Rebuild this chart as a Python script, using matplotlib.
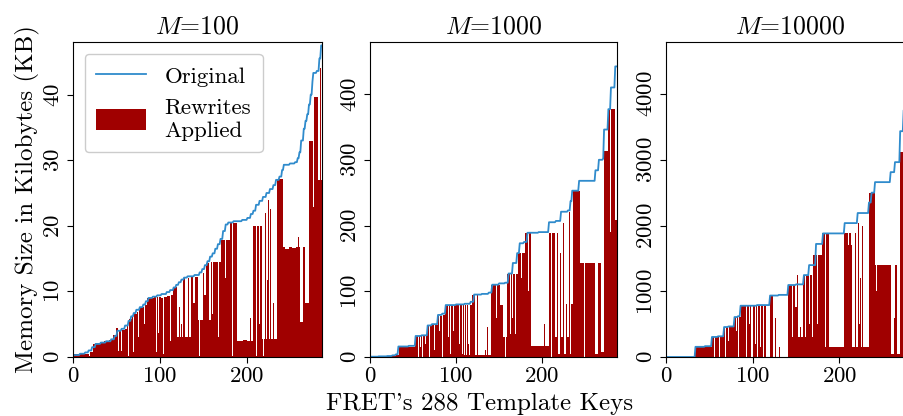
import numpy as np
import matplotlib
matplotlib.use("Agg")
import matplotlib.pyplot as plt

plt.rcParams['font.family'] = ['cmr10']
plt.rcParams['mathtext.fontset'] = 'cm'
plt.rcParams['axes.formatter.use_mathtext'] = True
plt.rcParams['font.size'] = 16

N_KEYS = 288

# (first key, value) -- value holds until the next first key
orig_m100 = [(0, 0.3), (8, 0.5), (14, 0.7), (18, 1.0), (22, 1.5), (26, 2.0), (32, 2.2), (38, 2.4),
             (44, 2.7), (48, 3.2), (51, 4.0), (56, 4.3), (60, 4.8), (64, 5.5), (67, 6.2), (70, 6.7),
             (73, 7.2), (77, 7.6), (81, 8.0), (84, 8.5), (87, 9.0), (92, 9.2), (97, 9.4), (102, 9.6),
             (108, 9.9), (112, 10.2), (116, 10.6), (119, 11.0), (122, 11.4), (125, 11.8), (128, 12.1),
             (132, 12.3), (140, 12.5), (146, 12.9), (149, 13.4), (152, 14.0), (155, 14.6), (158, 15.3),
             (161, 15.8), (164, 16.5), (167, 17.2), (170, 18.0), (173, 19.2), (176, 20.2), (179, 20.5),
             (185, 20.7), (195, 20.9), (201, 21.2), (205, 21.8), (208, 22.3), (211, 23.2), (215, 23.8),
             (219, 24.4), (223, 25.0), (227, 25.6), (231, 26.2), (234, 27.0), (238, 27.5), (241, 28.5),
             (243, 29.3), (250, 29.5), (256, 29.7), (259, 30.3), (261, 31.2), (263, 33.0), (266, 34.8),
             (268, 36.0), (270, 37.0), (272, 38.5), (274, 40.0), (276, 42.0), (277, 43.3), (281, 43.6),
             (284, 45.5), (286, 47.5)]

rewr_m100 = [(0, 0.45), (19, 0.1), (20, 0.8), (24, 2.0), (30, 2.2), (36, 2.4), (42, 2.6), (46, 3.3),
             (50, 4.4), (52, 0.9), (53, 3.9), (56, 0.9), (57, 4.1), (60, 4.3), (63, 4.8),
             (64, 0.1), (65, 5.8), (68, 6.2), (70, 0.8), (71, 6.5), (74, 6.9), (75, 3.0),
             (76, 7.2), (78, 7.4), (80, 7.6), (82, 5.0), (83, 7.9), (86, 9.0), (91, 0.2),
             (92, 9.0), (94, 9.1), (96, 0.8), (97, 9.2), (99, 3.6), (100, 9.1),
             (102, 9.0), (104, 0.4), (105, 9.2), (109, 9.3), (112, 2.5), (113, 9.4),
             (116, 10.7), (120, 3.0), (123, 7.6), (124, 3.0), (125, 5.0), (126, 3.0), (127, 12.1),
             (130, 3.0), (133, 12.0), (134, 3.0), (136, 12.2), (139, 8.2), (141, 12.2), (144, 5.6),
             (146, 0.1), (147, 5.6), (150, 12.8), (152, 9.4), (154, 14.3), (157, 5.6), (159, 14.5),
             (161, 6.5), (162, 14.5), (168, 3.0), (169, 14.5), (171, 17.8),
             (176, 12.0), (177, 17.8), (181, 20.4), (184, 0.1), (185, 20.5), (189, 2.4), (196, 2.6),
             (201, 2.5), (205, 6.0), (206, 2.5), (208, 20.0), (211, 0.1), (212, 20.0), (215, 5.0),
             (216, 20.0), (218, 2.7), (220, 0.1), (221, 2.7), (222, 22.0), (223, 2.7), (224, 11.7),
             (225, 23.9), (226, 2.7), (228, 22.5), (229, 2.7), (231, 8.2), (232, 2.7), (236, 27.2),
             (242, 16.7), (245, 16.5), (249, 16.8), (253, 16.6), (257, 16.8), (260, 18.3), (261, 16.7),
             (262, 5.3), (266, 16.8), (268, 8.2), (272, 33.0), (277, 22.8), (278, 39.6), (283, 27.0),
             (285, 44.0), (286, 27.0)]

orig_m1000 = [(0, 0.5), (10, 1.0), (20, 1.5), (26, 2.5), (30, 4.0), (33, 16), (45, 17), (53, 32),
              (60, 33), (67, 48), (72, 50), (79, 64), (84, 66), (88, 79), (100, 80), (110, 81),
              (117, 84), (121, 95), (130, 96), (138, 98), (142, 110), (150, 112), (157, 113),
              (161, 127), (166, 143), (171, 158), (174, 173), (179, 175), (183, 189), (196, 190),
              (208, 205), (216, 207), (222, 221), (230, 223), (233, 237), (235, 253), (243, 268),
              (262, 284), (266, 300), (271, 302), (272, 346), (277, 377), (280, 410), (285, 442)]

rewr_m1000 = [(0, 0.3), (15, 0.8), (25, 1.5), (31, 3.0), (34, 15.5), (53, 32), (56, 0.5), (57, 32),
              (59, 15), (60, 32), (61, 0.3), (62, 32), (64, 20), (65, 32), (67, 47), (69, 0.5),
              (70, 47), (72, 30), (73, 48), (75, 10), (76, 48), (79, 63), (81, 40), (82, 63),
              (84, 0.5), (85, 64), (88, 79), (91, 30), (92, 79), (94, 5), (95, 79), (97, 40), (98, 79),
              (100, 0.5), (101, 79), (104, 20), (105, 79), (107, 5), (108, 79), (110, 3), (111, 79),
              (112, 3), (113, 79), (114, 20), (115, 3), (117, 79), (119, 94), (123, 3), (125, 95),
              (126, 3), (129, 64), (130, 3), (134, 10), (135, 3), (137, 45), (138, 3), (141, 110),
              (147, 60), (148, 110), (152, 79), (155, 30), (157, 0.5), (158, 50), (159, 30),
              (160, 126), (163, 35), (164, 126), (166, 60), (167, 126), (169, 35), (170, 126),
              (172, 158), (176, 120), (177, 158), (181, 189), (184, 100), (185, 189), (188, 17),
              (203, 50), (204, 17), (208, 189), (211, 0.5), (212, 189), (215, 150), (216, 30),
              (218, 189), (219, 5), (221, 158), (222, 220), (223, 30), (225, 204), (226, 5), (228, 80),
              (229, 30), (232, 220), (233, 5), (234, 80), (236, 252), (244, 143), (249, 0.5),
              (250, 143), (262, 5), (266, 143), (269, 8), (272, 313), (277, 377), (279, 190),
              (280, 377), (285, 208)]

orig_m10000 = [(0, 0), (34, 155), (45, 165), (53, 305), (60, 315), (67, 456), (72, 465), (79, 608),
               (83, 620), (86, 780), (105, 790), (120, 935), (130, 945), (141, 1095), (150, 1105),
               (159, 1246), (165, 1398), (173, 1720), (181, 1880), (206, 2037), (221, 2190),
               (234, 2350), (237, 2500), (241, 2660), (259, 2812), (264, 2964), (270, 3435),
               (274, 3754), (278, 4100), (282, 4430), (286, 4750)]

rewr_m10000 = [(0, 0), (34, 150), (53, 305), (56, 5), (57, 305), (60, 150), (61, 305), (62, 5),
               (63, 305), (67, 456), (69, 5), (70, 456), (72, 250), (73, 456), (75, 5), (76, 456),
               (79, 608), (81, 400), (82, 608), (84, 5), (85, 608), (87, 780), (90, 300), (91, 780),
               (93, 5), (94, 780), (96, 500), (97, 780), (99, 5), (101, 780), (103, 200), (104, 780),
               (106, 5), (107, 780), (109, 150), (110, 780), (112, 5), (114, 780), (116, 5),
               (120, 935), (124, 5), (126, 600), (127, 5), (131, 150), (132, 5), (141, 1095),
               (146, 300), (147, 1095), (149, 760), (151, 300), (152, 1250), (153, 300), (155, 450),
               (156, 300), (158, 1246), (161, 300), (162, 1246), (165, 500), (166, 1246), (169, 300),
               (170, 1550), (175, 500), (176, 1550), (180, 1885), (184, 150), (185, 1885), (188, 152),
               (204, 450), (205, 152), (206, 1885), (210, 1700), (211, 1885), (214, 1700), (215, 152),
               (218, 1880), (219, 152), (222, 2040), (223, 500), (224, 1200), (225, 152), (227, 2000),
               (228, 152), (234, 2493), (241, 1398), (243, 1000), (244, 1398), (260, 50), (263, 600),
               (264, 1398), (267, 50), (270, 3116), (275, 3750), (276, 2900), (280, 1900), (285, 1800)]

titles = ['100', '1000', '10000']
y_tops = [48, 479, 4790]
y_ticks = [[0, 10, 20, 30, 40], [0, 100, 200, 300, 400], [0, 1000, 2000, 3000, 4000]]

LINE_C = '#2f8bcc'
BAR_C = '#a00000'


def expand(runs, n=N_KEYS):
    out = np.zeros(n)
    starts = [r[0] for r in runs] + [n]
    for i, (s, v) in enumerate(runs):
        out[s:starts[i + 1]] = v
    return out


fig = plt.figure(figsize=(9.04, 4.16), dpi=100)
# third panel runs off the right edge, as in the reference
positions = [[0.0808, 0.1418, 0.2754, 0.757],
             [0.4093, 0.1418, 0.2732, 0.757],
             [0.7367, 0.1418, 0.2754, 0.757]]

panels = [(orig_m100, rewr_m100), (orig_m1000, rewr_m1000), (orig_m10000, rewr_m10000)]
keys = np.arange(N_KEYS)

for i, (orig, rewr) in enumerate(panels):
    ax = fig.add_axes(positions[i])
    ax.bar(keys, expand(rewr), width=1.0, color=BAR_C, linewidth=0, label='Rewrites\nApplied')
    ax.plot(keys, expand(orig), color=LINE_C, linewidth=1.3, label='Original')
    ax.set_xlim(0, 287)
    ax.set_ylim(0, y_tops[i])
    ax.set_xticks([0, 100, 200])
    ax.set_yticks(y_ticks[i])
    for lab in ax.get_yticklabels():
        lab.set_rotation(90)
        lab.set_va('center')
    ax.tick_params(labelsize=16.5, length=4, width=0.8, pad=3)
    ax.set_title(r'$M$=' + titles[i], fontsize=18.5, pad=6)
    if i == 0:
        ax.set_ylabel('Memory Size in Kilobytes (KB)', fontsize=18, labelpad=3)
        ax.legend(loc='upper left', fontsize=16.5, handlelength=2.2,
                  handleheight=1.0, framealpha=1, edgecolor='#cccccc', borderpad=0.5)

fig.text(0.531, 0.028, "FRET's 288 Template Keys", ha='center', va='center', fontsize=18)

fig.savefig('out.png', dpi=100)
